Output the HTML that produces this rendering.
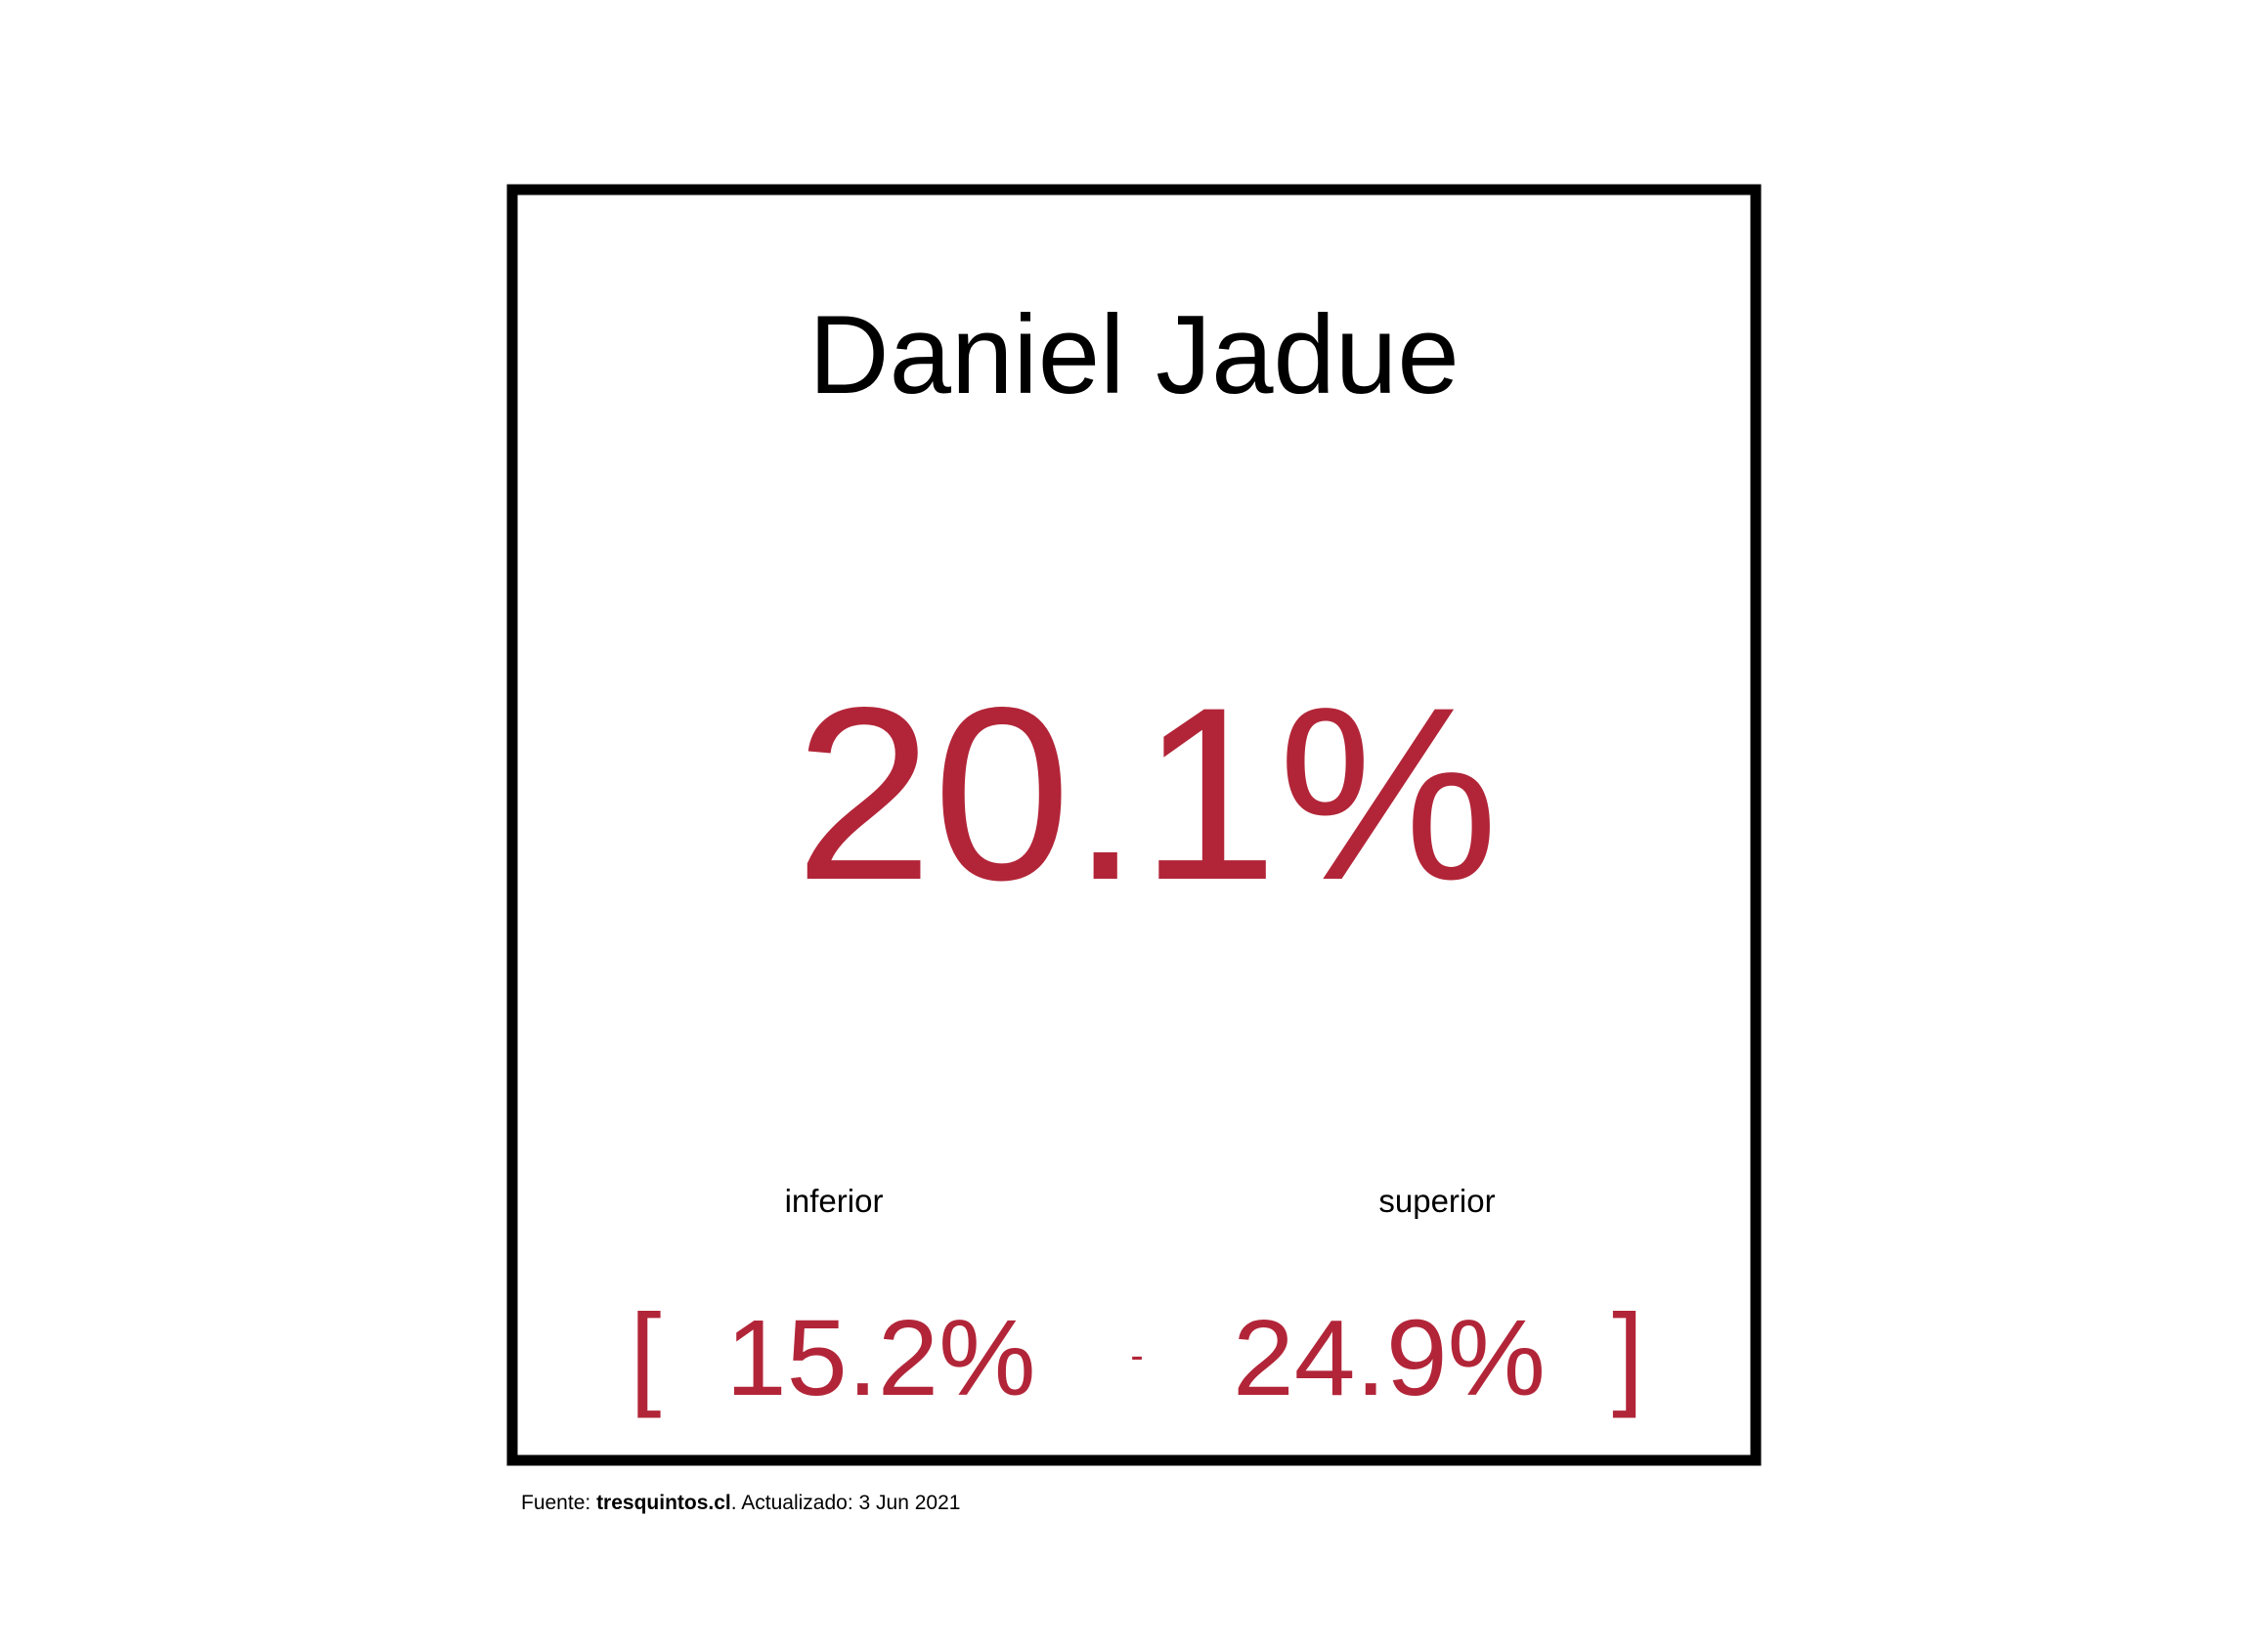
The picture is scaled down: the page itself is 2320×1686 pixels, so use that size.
<!DOCTYPE html>
<html><head><meta charset="utf-8"><style>
body{margin:0;background:#fff;}
svg{display:block;}
text{font-family:"Liberation Sans",sans-serif;}
</style></head><body>
<svg width="2320" height="1686" viewBox="0 0 2320 1686">
<rect x="524" y="194" width="1272" height="1300" fill="none" stroke="#000" stroke-width="11"/>
<text x="1160" y="402" font-size="114" text-anchor="middle" fill="#000">Daniel Jadue</text>
<text id="main" x="1173" y="899" font-size="252" text-anchor="middle" textLength="720" lengthAdjust="spacingAndGlyphs" fill="#b22538"></text>
<text x="853" y="1240" font-size="33" text-anchor="middle" fill="#000">inferior</text>
<text x="1470" y="1240" font-size="33" text-anchor="middle" fill="#000">superior</text>
<text x="644" y="1426" font-size="117" fill="#b22538">[</text>
<text id="lo" x="901" y="1427" font-size="110" text-anchor="middle" textLength="317" lengthAdjust="spacingAndGlyphs" fill="#b22538"></text>
<text x="1163" y="1400" font-size="40" text-anchor="middle" fill="#b22538">-</text>
<text id="hi" x="1421" y="1427" font-size="110" text-anchor="middle" textLength="320" lengthAdjust="spacingAndGlyphs" fill="#b22538"></text>
<text x="1649" y="1426" font-size="117" fill="#b22538">]</text>
<text x="533" y="1544" font-size="21" fill="#000">Fuente: <tspan font-weight="bold">tresquintos.cl</tspan>. Actualizado: 3 Jun 2021</text>
</svg>
<script>
const estimate=[20.1];
const lower=[15.2];
const upper=[24.9];
document.getElementById('main').textContent=estimate[0].toFixed(1)+'%';
document.getElementById('lo').textContent=lower[0].toFixed(1)+'%';
document.getElementById('hi').textContent=upper[0].toFixed(1)+'%';
</script>
</body></html>
